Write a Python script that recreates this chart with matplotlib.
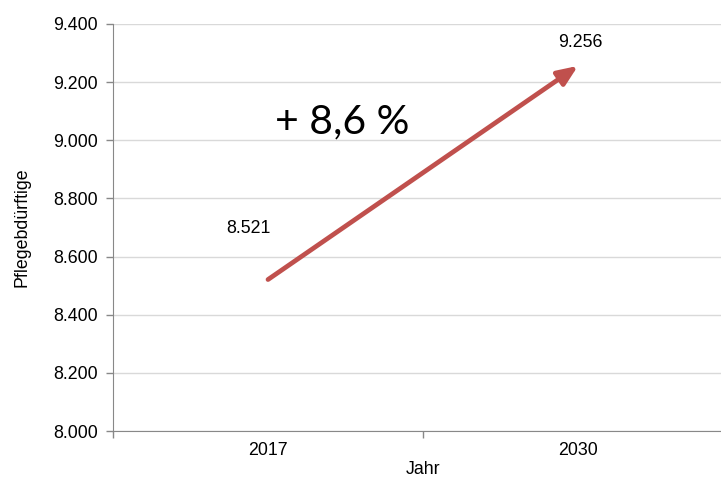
import matplotlib.pyplot as plt

jahre = ["2017", "2030"]
pflegebeduerftige = [8521, 9256]
y_ticks = [8000, 8200, 8400, 8600, 8800, 9000, 9200, 9400]
y_labels = ["8.000", "8.200", "8.400", "8.600", "8.800", "9.000", "9.200", "9.400"]
wert_labels = ["8.521", "9.256"]
zuwachs = "+ 8,6 %"

plt.rcParams["font.family"] = ["Liberation Sans", "DejaVu Sans"]

fig = plt.figure(figsize=(7.21, 4.78), dpi=100)
ax = fig.add_axes([113 / 721, 47 / 478, 620 / 721, 407 / 478])

x = list(range(len(jahre)))
ax.set_xlim(-0.5, len(jahre) - 0.5)
ax.set_ylim(y_ticks[0], y_ticks[-1])

# Pfeil 2017 -> 2030
ax.annotate("", xy=(x[1], pflegebeduerftige[1]), xytext=(x[0], pflegebeduerftige[0]),
            arrowprops=dict(arrowstyle="-|>,head_length=1.2,head_width=0.5",
                            color="#C0504D", lw=3.4, shrinkA=0, shrinkB=0))

ax.annotate(wert_labels[0], xy=(x[0], pflegebeduerftige[0]), xytext=(-14, 36.5),
            textcoords="offset points", ha="center", va="center", fontsize=12.8)
ax.annotate(wert_labels[1], xy=(x[1], pflegebeduerftige[1]), xytext=(2, 17),
            textcoords="offset points", ha="center", va="center", fontsize=12.8)
ax.text(0.239, 9063, zuwachs, ha="center", va="center", fontsize=29.5,
        family=["Lato", "DejaVu Sans"])

ax.set_yticks(y_ticks)
ax.set_yticklabels(y_labels, fontsize=12.8)
ax.set_xticks([-0.5, 0.5, 1.5])
ax.set_xticklabels([])
ax.set_xticks(x, minor=True)
ax.set_xticklabels(jahre, minor=True, fontsize=12.8)
ax.tick_params(axis="x", which="minor", length=0, pad=8)
ax.tick_params(axis="both", which="major", length=5, color="#888888", width=1)
ax.tick_params(axis="y", pad=6)

ax.grid(axis="y", color="#d9d9d9", lw=1)
ax.set_axisbelow(True)
for s in ["top", "right"]:
    ax.spines[s].set_visible(False)
for s in ["left", "bottom"]:
    ax.spines[s].set_color("#888888")

ax.set_ylabel("Pflegebdürftige", fontsize=12.8, labelpad=16)
ax.set_xlabel("Jahr", fontsize=12.8, labelpad=1)

fig.savefig("out.png", dpi=100)
